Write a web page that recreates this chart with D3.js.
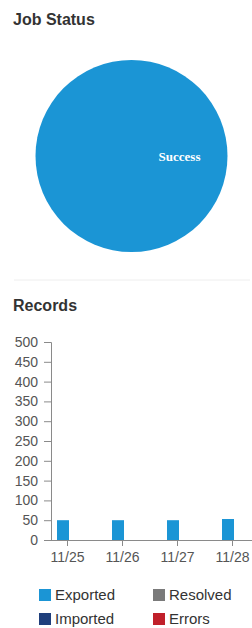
<!DOCTYPE html>
<html>
<head>
<meta charset="utf-8">
<script src="https://cdn.jsdelivr.net/npm/d3@7"></script>
<style>
  body { margin: 0; background: #fff; }
  svg { display: block; font-family: "Liberation Sans", Arial, sans-serif; }
  .title { font-weight: bold; font-size: 16px; fill: #333; }
  .axis path, .axis line { stroke: #8a8a8a; }
  .axis text { fill: #555; font-size: 14px; }
  .legend text { fill: #333; font-size: 15px; }
</style>
</head>
<body>
<svg width="252" height="628"></svg>
<script>
const statusNames = ["Success"]
const statusValues = [1]

const days = ["11/25", "11/26", "11/27", "11/28"]
const seriesNames = ["Exported", "Imported", "Resolved", "Errors"]
const exported = [50, 50, 50, 53]
const imported = [0, 0, 0, 0]
const resolved = [0, 0, 0, 0]
const errors = [0, 0, 0, 0]
const yTicks = [0, 50, 100, 150, 200, 250, 300, 350, 400, 450, 500]

const colors = ["#1b95d5", "#1f3f7c", "#7a7a7a", "#c0202a"]

const svg = d3.select("svg")

// ---- Job Status pie
svg.append("text").attr("class", "title").attr("x", 13).attr("y", 25).text("Job Status")

const pie = d3.pie().sort(null).startAngle(-Math.PI / 2).endAngle(3 * Math.PI / 2)
const arc = d3.arc().innerRadius(0).outerRadius(96)

const pieG = svg.append("g").attr("transform", "translate(131.5,156)")
const slices = pieG.selectAll("g")
  .data(pie(statusValues))
  .enter()
  .append("g")

slices.append("path")
  .attr("d", arc)
  .attr("fill", (d, i) => colors[i])

slices.append("text")
  .attr("transform", d => "translate(" + arc.centroid(d) + ")")
  .attr("text-anchor", "middle")
  .attr("dy", "0.35em")
  .attr("fill", "#fff")
  .style("font-family", "'Liberation Serif', serif")
  .style("font-weight", "bold")
  .style("font-size", "13px")
  .text((d, i) => statusNames[i])

svg.append("line")
  .attr("x1", 14).attr("x2", 250).attr("y1", 280).attr("y2", 280)
  .attr("stroke", "#eeeeee")

// ---- Records bar chart
svg.append("text").attr("class", "title").attr("x", 13).attr("y", 311).text("Records")

const y = d3.scaleLinear().domain([0, 500]).range([540, 342])
const x = d3.scalePoint().domain(days).range([67, 232])

svg.append("g")
  .attr("class", "axis")
  .attr("transform", "translate(51,0)")
  .call(d3.axisLeft(y).tickValues(yTicks).tickSize(7).tickSizeOuter(4).tickPadding(6))

const xAxis = svg.append("g")
  .attr("class", "axis")
  .attr("transform", "translate(0,540)")
  .call(d3.axisBottom(x).tickSize(6).tickSizeOuter(0).tickPadding(6))
xAxis.select(".domain").attr("d", "M51,0.5H252")

const series = [exported, imported, resolved, errors]
series.forEach((vals, s) => {
  svg.append("g")
    .selectAll("rect")
    .data(vals)
    .enter()
    .append("rect")
    .attr("x", (d, i) => x(days[i]) - 10)
    .attr("y", d => y(d))
    .attr("width", 12)
    .attr("height", d => y(0) - y(d))
    .attr("fill", colors[s])
})

// ---- legend
const legend = svg.append("g").attr("class", "legend")
  .selectAll("g")
  .data(seriesNames)
  .enter()
  .append("g")
  .attr("transform", (d, i) => "translate(" + (i < 2 ? 39 : 153) + "," + (i % 2 === 0 ? 595 : 619) + ")")

legend.append("rect")
  .attr("x", 0).attr("y", -6)
  .attr("width", 12).attr("height", 12)
  .attr("fill", (d, i) => colors[i])

legend.append("text")
  .attr("x", 16)
  .attr("dy", "0.35em")
  .text(d => d)
</script>
</body>
</html>
